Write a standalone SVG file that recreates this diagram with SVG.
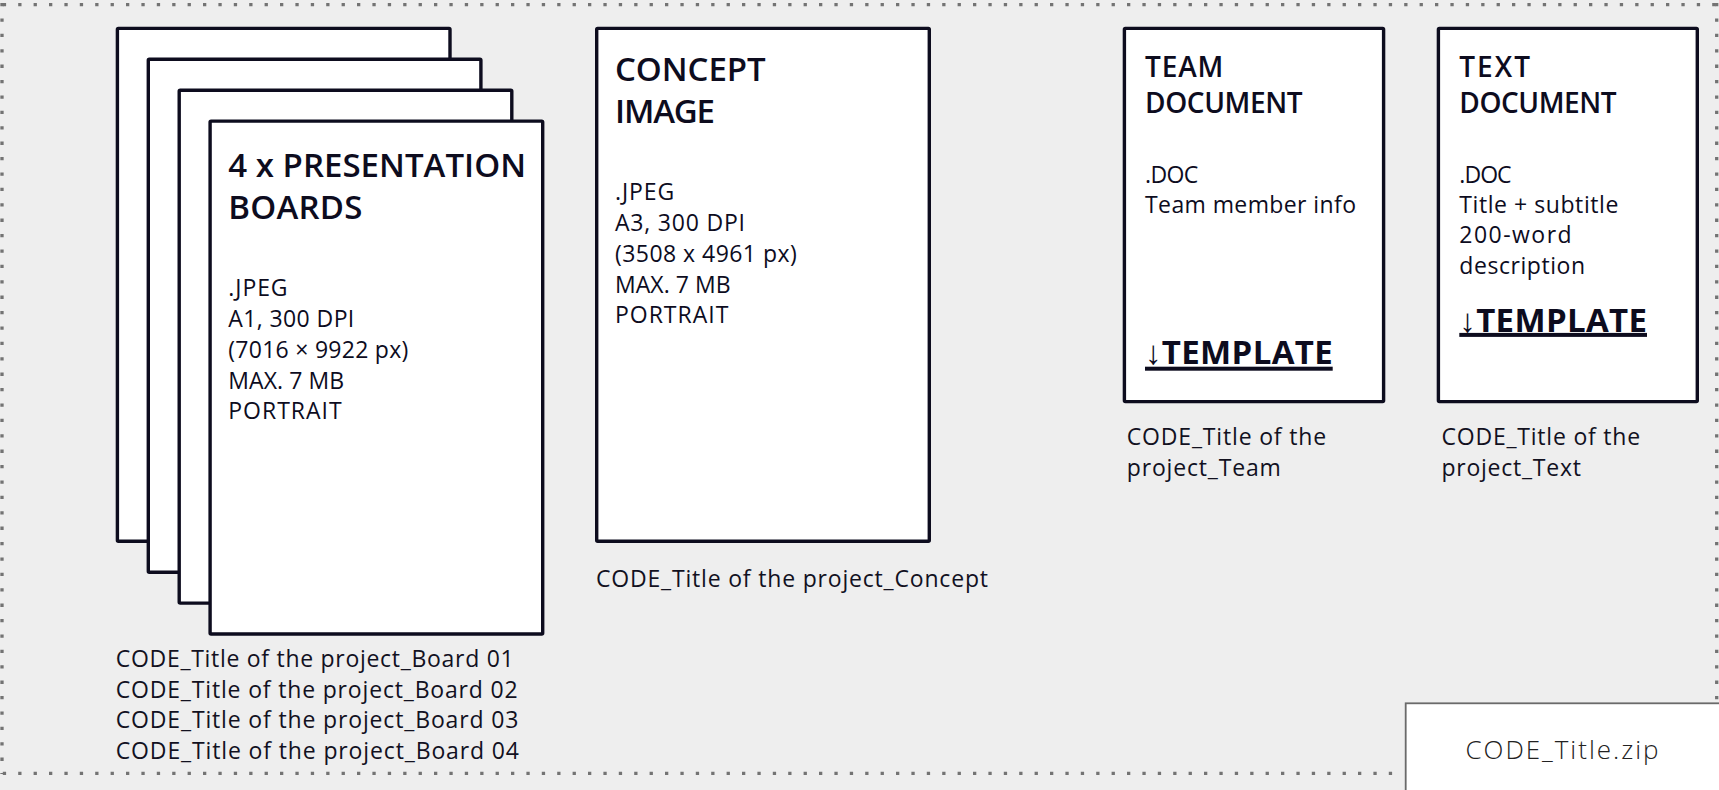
<svg xmlns="http://www.w3.org/2000/svg" width="1719" height="790" viewBox="0 0 1719 790">
<style>
.card{fill:#ffffff;stroke:#0d0c1e;stroke-width:3.4;stroke-linejoin:round}
.dot{fill:none;stroke:#737373;stroke-width:3.3;stroke-dasharray:3.3 12.1}
.h{font-family:"Open Sans","Liberation Sans",sans-serif;font-weight:600;font-size:33px;fill:#0d0c1e}
.h2{font-family:"Open Sans","Liberation Sans",sans-serif;font-weight:600;font-size:28px;fill:#0d0c1e}
.b{font-family:"Open Sans","Liberation Sans",sans-serif;font-size:23px;fill:#0d0c1e}
.cap{font-family:"Open Sans","Liberation Sans",sans-serif;font-size:23px;fill:#12111f}
.tpl{font-family:"Open Sans","Liberation Sans",sans-serif;font-weight:700;font-size:33px;fill:#0d0c1e}
.ul{fill:#0d0c1e}
.zip{fill:#ffffff;stroke:#6a6a6a;stroke-width:1.8}
.ziptxt{font-family:"Open Sans","Liberation Sans",sans-serif;font-weight:300;font-size:26px;fill:#222222}
</style>
<rect x="0" y="0" width="1719" height="790" fill="#eeeeee"/>
<g id="border">
<path class="dot" d="M2.8 4.7 H1717"/>
<path class="dot" d="M2 3 V774"/>
<path class="dot" d="M2.8 773.3 H1404"/>
<path class="dot" d="M1716.7 3 V703"/>
</g>
<g id="boards">
<rect class="card" x="117.4" y="28.4" width="332.6" height="512.9" rx="1"/>
<rect class="card" x="148.3" y="59.3" width="332.6" height="512.9" rx="1"/>
<rect class="card" x="179.2" y="90.2" width="332.6" height="512.9" rx="1"/>
<rect class="card" x="210.1" y="121.1" width="332.6" height="512.9" rx="1"/>
<text class="h" x="228.3" y="177" textLength="297.7" lengthAdjust="spacing">4 x PRESENTATION</text>
<text class="h" x="228.3" y="219.3" textLength="134" lengthAdjust="spacing">BOARDS</text>
<text class="b" x="228.3" y="296" textLength="59.3" lengthAdjust="spacing">.JPEG</text>
<text class="b" x="228.3" y="327" textLength="126" lengthAdjust="spacing">A1, 300 DPI</text>
<text class="b" x="228.3" y="358" textLength="180" lengthAdjust="spacing">(7016 × 9922 px)</text>
<text class="b" x="228.3" y="389" textLength="115.7" lengthAdjust="spacing">MAX. 7 MB</text>
<text class="b" x="228.3" y="419.3" textLength="113.3" lengthAdjust="spacing">PORTRAIT</text>
<text class="cap" x="115.7" y="666.7" textLength="398" lengthAdjust="spacing">CODE_Title of the project_Board 01</text>
<text class="cap" x="115.7" y="697.5" textLength="402" lengthAdjust="spacing">CODE_Title of the project_Board 02</text>
<text class="cap" x="115.7" y="728.3" textLength="402.7" lengthAdjust="spacing">CODE_Title of the project_Board 03</text>
<text class="cap" x="115.7" y="759" textLength="403.3" lengthAdjust="spacing">CODE_Title of the project_Board 04</text>
</g>
<g id="concept">
<rect class="card" x="596.7" y="28.4" width="332.6" height="512.9" rx="1"/>
<text class="h" x="615" y="81" textLength="150.7" lengthAdjust="spacing">CONCEPT</text>
<text class="h" x="615" y="123.3" textLength="100" lengthAdjust="spacing">IMAGE</text>
<text class="b" x="615" y="200" textLength="59.3" lengthAdjust="spacing">.JPEG</text>
<text class="b" x="615" y="230.7" textLength="130" lengthAdjust="spacing">A3, 300 DPI</text>
<text class="b" x="615" y="261.7" textLength="181.7" lengthAdjust="spacing">(3508 x 4961 px)</text>
<text class="b" x="615" y="292.7" textLength="115.7" lengthAdjust="spacing">MAX. 7 MB</text>
<text class="b" x="615" y="322.7" textLength="113.3" lengthAdjust="spacing">PORTRAIT</text>
<text class="cap" x="596" y="586.7" textLength="392" lengthAdjust="spacing">CODE_Title of the project_Concept</text>
</g>
<g id="team">
<rect class="card" x="1124.4" y="28.4" width="259.2" height="373.2" rx="1"/>
<text class="h2" x="1145" y="76.7" textLength="78.3" lengthAdjust="spacing">TEAM</text>
<text class="h2" x="1145" y="112.7" textLength="157.7" lengthAdjust="spacing">DOCUMENT</text>
<text class="b" x="1145" y="182.7" textLength="53.3" lengthAdjust="spacing">.DOC</text>
<text class="b" x="1145" y="212.7" textLength="211" lengthAdjust="spacing">Team member info</text>
<text class="tpl" x="1145" y="364.3" textLength="187.7" lengthAdjust="spacing">↓TEMPLATE</text>
<rect class="ul" x="1145" y="366.7" width="187.7" height="4"/>
<text class="cap" x="1126.8" y="445" textLength="199.3" lengthAdjust="spacing">CODE_Title of the</text>
<text class="cap" x="1126.8" y="476" textLength="154" lengthAdjust="spacing">project_Team</text>
</g>
<g id="text">
<rect class="card" x="1438.4" y="28.4" width="258.9" height="373.2" rx="1"/>
<text class="h2" x="1459.3" y="76.7" textLength="70.7" lengthAdjust="spacing">TEXT</text>
<text class="h2" x="1459.3" y="112.7" textLength="157.3" lengthAdjust="spacing">DOCUMENT</text>
<text class="b" x="1459.3" y="182.7" textLength="52.3" lengthAdjust="spacing">.DOC</text>
<text class="b" x="1459.3" y="212.7" textLength="159" lengthAdjust="spacing">Title + subtitle</text>
<text class="b" x="1459.3" y="243.3" textLength="112.3" lengthAdjust="spacing">200-word</text>
<text class="b" x="1459.3" y="274" textLength="125.7" lengthAdjust="spacing">description</text>
<text class="tpl" x="1459.3" y="331.7" textLength="187.7" lengthAdjust="spacing">↓TEMPLATE</text>
<rect class="ul" x="1459.3" y="332.9" width="187.7" height="4"/>
<text class="cap" x="1441.5" y="445" textLength="198.6" lengthAdjust="spacing">CODE_Title of the</text>
<text class="cap" x="1441.5" y="476" textLength="139.4" lengthAdjust="spacing">project_Text</text>
</g>
<g id="zipfile">
<rect class="zip" x="1405.7" y="703.3" width="330" height="110"/>
<text class="ziptxt" x="1562" y="759" text-anchor="middle" textLength="193" lengthAdjust="spacing">CODE_Title.zip</text>
</g>
<g id="connectors"></g>
</svg>
